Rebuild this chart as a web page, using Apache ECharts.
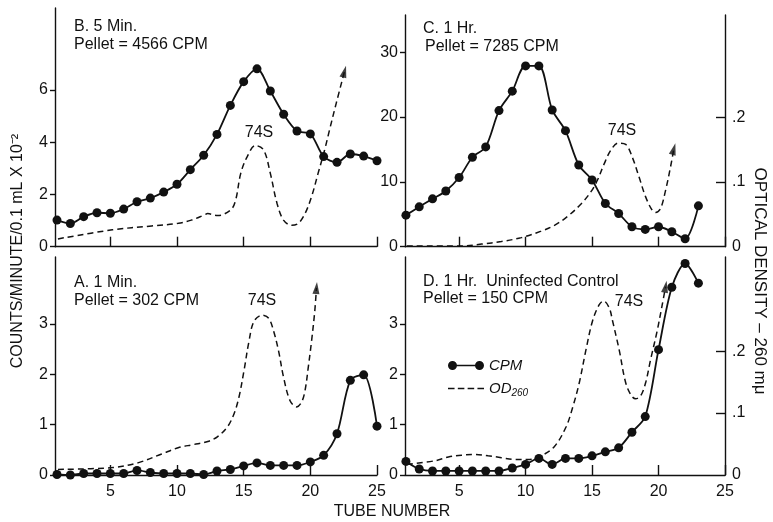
<!DOCTYPE html>
<html>
<head>
<meta charset="utf-8">
<script src="https://cdn.jsdelivr.net/npm/echarts@6/dist/echarts.min.js"></script>
<style>html,body{margin:0;padding:0;background:#fff}#c{width:773px;height:522px}</style>
</head>
<body>
<div id="c"></div>
<script>
// ---------- DATA ----------
const tubes = [1,2,3,4,5,6,7,8,9,10,11,12,13,14,15,16,17,18,19,20,21,22,23,24,25];
const tickTubes = [5,10,15,20,25];

// Panel B. 5 Min.
const cpmB = [1.02,0.89,1.15,1.30,1.28,1.44,1.72,1.86,2.09,2.39,2.95,3.50,4.30,5.41,6.32,6.81,5.96,5.07,4.43,4.32,3.45,3.23,3.55,3.47,3.29];
const odBx = [1.07,5.15,8.1,10.1,11.07,12.06,12.3,13.05,14.04,14.4,14.78,15.27,15.89,16.5,17,17.5,17.99,18.6,19.1,19.6,20.09,20.58,21.07,21.44,21.94,22.56];
const odB  = [0.012,0.026,0.032,0.036,0.041,0.049,0.051,0.048,0.057,0.072,0.113,0.139,0.156,0.149,0.113,0.067,0.041,0.033,0.036,0.051,0.077,0.113,0.149,0.180,0.221,0.270];

// Panel C. 1 Hr.
const cpmC = [4.87,6.15,7.38,8.6,10.67,13.8,15.4,21.0,24.0,27.9,27.9,21.1,17.9,12.6,10.3,6.67,5.13,3.08,2.67,3.08,2.31,1.23,6.3];
const odCx = [1.07,5.06,6.69,8.18,9.68,11.17,12.17,13.17,14.17,14.92,15.41,15.91,16.41,16.96,17.53,18.03,18.53,19.03,19.53,19.78,20.15,20.53,20.9,21.15];
const odC  = [0.001,0.001,0.004,0.008,0.014,0.024,0.033,0.047,0.066,0.085,0.103,0.128,0.149,0.160,0.158,0.138,0.108,0.077,0.056,0.053,0.059,0.087,0.123,0.151];

// Panel A. 1 Min.
const cpmA = [0.01,0.0,0.03,0.03,0.03,0.03,0.09,0.05,0.03,0.03,0.03,0.01,0.08,0.11,0.18,0.24,0.19,0.19,0.19,0.26,0.39,0.82,1.88,1.99,0.97];
const odAx = [1.07,5.15,7.12,8.85,10.09,11.2,12.31,13.05,13.79,14.28,14.65,15.02,15.4,15.77,16.38,16.88,17.25,17.62,17.99,18.48,18.98,19.35,19.6,19.84,20.09,20.33,20.46];
const odA  = [0.009,0.012,0.020,0.034,0.044,0.049,0.054,0.062,0.078,0.099,0.126,0.168,0.216,0.248,0.258,0.253,0.232,0.200,0.158,0.120,0.110,0.118,0.136,0.173,0.216,0.264,0.302];

// Panel D. 1 Hr. Uninfected Control
const cpmD = [0.27,0.12,0.08,0.08,0.08,0.08,0.08,0.08,0.14,0.21,0.33,0.21,0.33,0.33,0.38,0.46,0.54,0.85,1.16,2.49,3.73,4.20,3.81];
const odDx = [1.07,3.19,4.19,5.19,6.19,7.18,8.18,9.18,10.18,11.17,12.17,13.05,13.54,14.04,14.54,15.04,15.54,15.86,16.29,16.54,17.04,17.53,17.96,18.28,18.66,19.03,19.4,19.9,20.28,20.53];
const odD  = [0.017,0.023,0.029,0.032,0.033,0.031,0.028,0.025,0.025,0.031,0.046,0.078,0.109,0.149,0.202,0.249,0.275,0.281,0.270,0.249,0.202,0.149,0.128,0.123,0.128,0.149,0.186,0.233,0.275,0.304];

// Axis tick labels
const cpmTicksTop = [0,2,4,6];
const cpmTicksC = [0,10,20,30];
const cpmTicksBottom = [0,1,2,3];
const odTickMarks = [0.1,0.2];
const odTickLabels = [0,0.1,0.2];

// ---------- CHART ----------
const FONT = '"Liberation Sans", Arial, Helvetica, sans-serif';
const INK = '#111';
const chart = echarts.init(document.getElementById('c'), null, {renderer:'canvas'});

const pairs = (xs, ys) => xs.map((x,i)=>[x, ys[i]]);
const last = (xs, ys) => [[xs[xs.length-1], ys[ys.length-1]]];

function xAx(grid, min, showLabels){
  return {type:'value', gridIndex:grid, min:min, max:25,
    axisLine:{show:true, onZero:false, lineStyle:{color:INK, width:1.4}},
    axisTick:{show:true, inside:true, length:10, customValues:tickTubes, lineStyle:{color:INK, width:1.4}},
    axisLabel:{show:showLabels, customValues:tickTubes, color:INK, fontSize:16, margin:9, fontFamily:FONT},
    splitLine:{show:false}};
}
function yLeft(grid, max, vals){
  return {type:'value', gridIndex:grid, min:0, max:max, position:'left',
    axisLine:{show:true, lineStyle:{color:INK, width:1.4}},
    axisTick:{show:true, inside:false, length:5, customValues:vals, lineStyle:{color:INK, width:1.4}},
    axisLabel:{show:true, customValues:vals, color:INK, fontSize:16, margin:7, fontFamily:FONT},
    splitLine:{show:false}};
}
function yOD(grid, max, visible){
  return {type:'value', gridIndex:grid, min:0, max:max, position:'right', show:visible,
    axisLine:{show:true, lineStyle:{color:INK, width:1.4}},
    axisTick:{show:true, inside:true, length:9, customValues:odTickMarks, lineStyle:{color:INK, width:1.4}},
    axisLabel:{show:true, customValues:odTickLabels, color:INK, fontSize:16, margin:7, fontFamily:FONT,
      formatter:v => v === 0 ? '0' : '.' + Math.round(v*10)},
    splitLine:{show:false}};
}
function cpmSeries(xi, yi, data){
  return {name:'CPM', type:'line', xAxisIndex:xi, yAxisIndex:yi, data:data, smooth:0.3,
    symbol:'circle', symbolSize:9, showSymbol:true,
    itemStyle:{color:INK}, lineStyle:{color:INK, width:1.8}, z:3, animation:false};
}
function odSeries(xi, yi, data){
  return {name:'OD260', type:'line', xAxisIndex:xi, yAxisIndex:yi, data:data, smooth:0.35,
    symbol:'none', itemStyle:{color:INK}, lineStyle:{color:INK, width:1.5, type:[6,4]}, z:2, animation:false};
}
function arrowSeries(xi, yi, data, rot){
  return {type:'scatter', xAxisIndex:xi, yAxisIndex:yi, data:data, symbol:'triangle',
    symbolSize:[7,12], symbolRotate:rot, itemStyle:{color:INK}, z:4, silent:true, animation:false};
}
function txt(x, y, s, size, align){
  return {type:'text', x:x, y:y, silent:true,
    style:{text:s, fill:INK, font:(size||14)+'px '+FONT, textAlign:align||'left', textVerticalAlign:'middle'}};
}

const option = {
  backgroundColor:'#fff',
  animation:false,
  grid:[
    {left:55, top:8, width:322, height:238.7},
    {left:405, top:15, width:320, height:231.7},
    {left:55, top:257, width:322, height:218},
    {left:405, top:257, width:320, height:218}
  ],
  xAxis:[ xAx(0,0.85,false), xAx(1,0.93,false), xAx(2,0.85,true), xAx(3,0.93,true) ],
  yAxis:[
    yLeft(0, 9.14, cpmTicksTop), yOD(0, 0.368, false),
    yLeft(1, 35.75, cpmTicksC),  yOD(1, 0.358, true),
    yLeft(2, 4.33, cpmTicksBottom), yOD(2, 0.352, false),
    yLeft(3, 4.33, cpmTicksBottom), yOD(3, 0.352, true)
  ],
  legend:{
    orient:'vertical', left:443, top:353, itemWidth:36, itemHeight:10, itemGap:8,
    data:[
      {name:'CPM', icon:'path://M0,5A5,5 0 1 1 10,5A5,5 0 1 1 0,5ZM9,4.3L31,4.3L31,5.7L9,5.7ZM30,5A5,5 0 1 1 40,5A5,5 0 1 1 30,5Z'},
      {name:'OD260', icon:'path://M6,4.2L12,4.2L12,5.8L6,5.8ZM15,4.2L21,4.2L21,5.8L15,5.8ZM24,4.2L30,4.2L30,5.8L24,5.8ZM33,4.2L39,4.2L39,5.8L33,5.8Z'}
    ],
    textStyle:{color:INK, fontSize:15, fontStyle:'italic', fontFamily:FONT,
      rich:{i:{fontSize:15, fontStyle:'italic', fontFamily:FONT, color:INK},
            s:{fontSize:10, fontStyle:'italic', fontFamily:FONT, color:INK, padding:[9,0,0,0]}}},
    formatter:n => n === 'OD260' ? '{i|OD}{s|260}' : '{i|CPM}',
    selectedMode:false
  },
  series:[
    odSeries(0,1,pairs(odBx,odB)), arrowSeries(0,1,last(odBx,odB),-15), cpmSeries(0,0,pairs(tubes,cpmB)),
    odSeries(1,3,pairs(odCx,odC)), arrowSeries(1,3,last(odCx,odC),-15), cpmSeries(1,2,pairs(tubes.slice(0,cpmC.length),cpmC)),
    odSeries(2,5,pairs(odAx,odA)), arrowSeries(2,5,last(odAx,odA),-5), cpmSeries(2,4,pairs(tubes,cpmA)),
    odSeries(3,7,pairs(odDx,odD)), arrowSeries(3,7,last(odDx,odD),-10), cpmSeries(3,6,pairs(tubes.slice(0,cpmD.length),cpmD))
  ],
  graphic:[
    txt(74, 27, 'B. 5 Min.', 16),
    txt(74, 45, 'Pellet = 4566 CPM', 16),
    txt(423, 29, 'C. 1 Hr.', 16),
    txt(425, 47, 'Pellet = 7285 CPM', 16),
    txt(74, 283, 'A. 1 Min.', 16),
    txt(74, 301, 'Pellet = 302 CPM', 16),
    txt(423, 282, 'D. 1 Hr.  Uninfected Control', 16),
    txt(423, 299, 'Pellet = 150 CPM', 16),
    txt(259, 133, '74S', 16, 'center'),
    txt(622, 131, '74S', 16, 'center'),
    txt(262, 301, '74S', 16, 'center'),
    txt(629, 302, '74S', 16, 'center'),
    txt(392, 512, 'TUBE NUMBER', 16, 'center'),
    {type:'text', x:18, y:251, rotation:Math.PI/2, silent:true,
      style:{text:'COUNTS/MINUTE/0.1 mL X 10⁻²', fill:INK, font:'16px '+FONT, textAlign:'center', textVerticalAlign:'middle'}},
    {type:'text', x:760, y:281, rotation:-Math.PI/2, silent:true,
      style:{text:'OPTICAL DENSITY – 260 mμ', fill:INK, font:'17px '+FONT, textAlign:'center', textVerticalAlign:'middle'}}
  ]
};
chart.setOption(option);
</script>
</body>
</html>
